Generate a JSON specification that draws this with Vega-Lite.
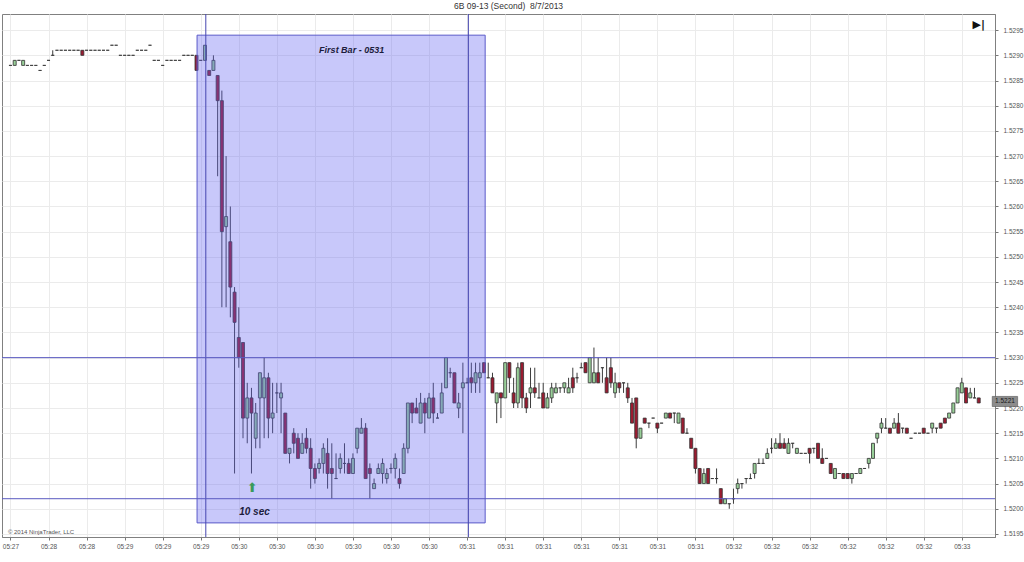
{
  "$schema": "https://vega.github.io/schema/vega-lite/v6.json",
  "width": 993,
  "height": 523,
  "autosize": {"type": "none"},
  "padding": {"left": 2, "top": 14, "right": 29, "bottom": 25},
  "background": "white",
  "title": {"text": "6B 09-13 (Second)\u00a0 8/7/2013", "fontSize": 8.5, "fontWeight": "normal", "font": "Liberation Sans", "color": "#333333", "offset": 3, "dx": 10},
  "config": {
    "view": {"stroke": "#808080", "strokeWidth": 1},
    "axis": {"labelFont": "Liberation Sans", "labelFontSize": 6.5, "labelColor": "#555555", "tickColor": "#777777", "tickSize": 3, "domainColor": "#808080", "gridColor": "#ebebeb", "gridWidth": 1, "title": null, "labelOverlap": false, "labelFlush": false, "labelBound": false}
  },
  "datasets": {
    "bars": [
      {"i":0,"o":1.5288,"h":1.5288,"l":1.5288,"c":1.5288},
      {"i":1,"o":1.5288,"h":1.5289,"l":1.5288,"c":1.5289},
      {"i":2,"o":1.5289,"h":1.5289,"l":1.5289,"c":1.5289},
      {"i":3,"o":1.5288,"h":1.5289,"l":1.5288,"c":1.5289},
      {"i":4,"o":1.5288,"h":1.5288,"l":1.5288,"c":1.5288},
      {"i":5,"o":1.5288,"h":1.5288,"l":1.5288,"c":1.5288},
      {"i":6,"o":1.5288,"h":1.5288,"l":1.5288,"c":1.5288},
      {"i":7,"o":1.5287,"h":1.5287,"l":1.5287,"c":1.5287},
      {"i":8,"o":1.5288,"h":1.5288,"l":1.5288,"c":1.5288},
      {"i":9,"o":1.5289,"h":1.5289,"l":1.5289,"c":1.5289},
      {"i":10,"o":1.5290,"h":1.5291,"l":1.5290,"c":1.5290},
      {"i":11,"o":1.5291,"h":1.5291,"l":1.5291,"c":1.5291},
      {"i":12,"o":1.5291,"h":1.5291,"l":1.5291,"c":1.5291},
      {"i":13,"o":1.5291,"h":1.5291,"l":1.5291,"c":1.5291},
      {"i":14,"o":1.5291,"h":1.5291,"l":1.5291,"c":1.5291},
      {"i":15,"o":1.5291,"h":1.5291,"l":1.5291,"c":1.5291},
      {"i":16,"o":1.5291,"h":1.5291,"l":1.5291,"c":1.5291},
      {"i":17,"o":1.5291,"h":1.5291,"l":1.5290,"c":1.5290},
      {"i":18,"o":1.5291,"h":1.5291,"l":1.5291,"c":1.5291},
      {"i":19,"o":1.5291,"h":1.5291,"l":1.5291,"c":1.5291},
      {"i":20,"o":1.5291,"h":1.5291,"l":1.5291,"c":1.5291},
      {"i":21,"o":1.5291,"h":1.5291,"l":1.5291,"c":1.5291},
      {"i":22,"o":1.5291,"h":1.5291,"l":1.5291,"c":1.5291},
      {"i":23,"o":1.5291,"h":1.5291,"l":1.5291,"c":1.5291},
      {"i":24,"o":1.5292,"h":1.5292,"l":1.5292,"c":1.5292},
      {"i":25,"o":1.5292,"h":1.5292,"l":1.5292,"c":1.5292},
      {"i":26,"o":1.5290,"h":1.5290,"l":1.5290,"c":1.5290},
      {"i":27,"o":1.5290,"h":1.5290,"l":1.5290,"c":1.5290},
      {"i":28,"o":1.5290,"h":1.5290,"l":1.5290,"c":1.5290},
      {"i":29,"o":1.5290,"h":1.5290,"l":1.5290,"c":1.5290},
      {"i":30,"o":1.5291,"h":1.5291,"l":1.5291,"c":1.5291},
      {"i":31,"o":1.5291,"h":1.5291,"l":1.5291,"c":1.5291},
      {"i":32,"o":1.5291,"h":1.5291,"l":1.5291,"c":1.5291},
      {"i":33,"o":1.5292,"h":1.5292,"l":1.5292,"c":1.5292},
      {"i":34,"o":1.5289,"h":1.5289,"l":1.5289,"c":1.5289},
      {"i":35,"o":1.5289,"h":1.5289,"l":1.5289,"c":1.5289},
      {"i":36,"o":1.5288,"h":1.5288,"l":1.5288,"c":1.5288},
      {"i":37,"o":1.5289,"h":1.5289,"l":1.5289,"c":1.5289},
      {"i":38,"o":1.5289,"h":1.5289,"l":1.5289,"c":1.5289},
      {"i":39,"o":1.5289,"h":1.5289,"l":1.5289,"c":1.5289},
      {"i":40,"o":1.5289,"h":1.5289,"l":1.5289,"c":1.5289},
      {"i":41,"o":1.5290,"h":1.5290,"l":1.5290,"c":1.5290},
      {"i":42,"o":1.5290,"h":1.5290,"l":1.5290,"c":1.5290},
      {"i":43,"o":1.5290,"h":1.5290,"l":1.5290,"c":1.5290},
      {"i":44,"o":1.5290,"h":1.5290,"l":1.5287,"c":1.5287},
      {"i":45,"o":1.5289,"h":1.5289,"l":1.5289,"c":1.5289},
      {"i":46,"o":1.5289,"h":1.5292,"l":1.5289,"c":1.5292},
      {"i":47,"o":1.5287,"h":1.5287,"l":1.5286,"c":1.5286},
      {"i":48,"o":1.5287,"h":1.5290,"l":1.5287,"c":1.5289},
      {"i":49,"o":1.5286,"h":1.5286,"l":1.5266,"c":1.5281},
      {"i":50,"o":1.5281,"h":1.5283,"l":1.5240,"c":1.5255},
      {"i":51,"o":1.5256,"h":1.5270,"l":1.5240,"c":1.5258},
      {"i":52,"o":1.5253,"h":1.5260,"l":1.5238,"c":1.5244},
      {"i":53,"o":1.5243,"h":1.5244,"l":1.5207,"c":1.5237},
      {"i":54,"o":1.5234,"h":1.5240,"l":1.5228,"c":1.5230},
      {"i":55,"o":1.5233,"h":1.5233,"l":1.5214,"c":1.5218},
      {"i":56,"o":1.5218,"h":1.5225,"l":1.5213,"c":1.5222},
      {"i":57,"o":1.5222,"h":1.5224,"l":1.5207,"c":1.5219},
      {"i":58,"o":1.5214,"h":1.5221,"l":1.5212,"c":1.5219},
      {"i":59,"o":1.5222,"h":1.5227,"l":1.5212,"c":1.5227},
      {"i":60,"o":1.5222,"h":1.5230,"l":1.5214,"c":1.5226},
      {"i":61,"o":1.5226,"h":1.5227,"l":1.5214,"c":1.5218},
      {"i":62,"o":1.5218,"h":1.5225,"l":1.5215,"c":1.5219},
      {"i":63,"o":1.5223,"h":1.5225,"l":1.5219,"c":1.5223},
      {"i":64,"o":1.5222,"h":1.5225,"l":1.5215,"c":1.5223},
      {"i":65,"o":1.5219,"h":1.5219,"l":1.5211,"c":1.5211},
      {"i":66,"o":1.5211,"h":1.5212,"l":1.5209,"c":1.5212},
      {"i":67,"o":1.5215,"h":1.5216,"l":1.5211,"c":1.5213},
      {"i":68,"o":1.5214,"h":1.5215,"l":1.5210,"c":1.5210},
      {"i":69,"o":1.5211,"h":1.5215,"l":1.5211,"c":1.5213},
      {"i":70,"o":1.5214,"h":1.5216,"l":1.5211,"c":1.5212},
      {"i":71,"o":1.5212,"h":1.5214,"l":1.5204,"c":1.5208},
      {"i":72,"o":1.5208,"h":1.5209,"l":1.5205,"c":1.5206},
      {"i":73,"o":1.5208,"h":1.5210,"l":1.5207,"c":1.5209},
      {"i":74,"o":1.5209,"h":1.5213,"l":1.5207,"c":1.5212},
      {"i":75,"o":1.5211,"h":1.5214,"l":1.5204,"c":1.5207},
      {"i":76,"o":1.5208,"h":1.5213,"l":1.5202,"c":1.5207},
      {"i":77,"o":1.5206,"h":1.5211,"l":1.5206,"c":1.5206},
      {"i":78,"o":1.5208,"h":1.5211,"l":1.5207,"c":1.5210},
      {"i":79,"o":1.5209,"h":1.5213,"l":1.5207,"c":1.5209},
      {"i":80,"o":1.5209,"h":1.5210,"l":1.5207,"c":1.5207},
      {"i":81,"o":1.5207,"h":1.5211,"l":1.5207,"c":1.5210},
      {"i":82,"o":1.5212,"h":1.5216,"l":1.5211,"c":1.5216},
      {"i":83,"o":1.5215,"h":1.5218,"l":1.5215,"c":1.5216},
      {"i":84,"o":1.5216,"h":1.5217,"l":1.5206,"c":1.5206},
      {"i":85,"o":1.5208,"h":1.5209,"l":1.5202,"c":1.5207},
      {"i":86,"o":1.5204,"h":1.5206,"l":1.5204,"c":1.5205},
      {"i":87,"o":1.5207,"h":1.5209,"l":1.5207,"c":1.5208},
      {"i":88,"o":1.5207,"h":1.5210,"l":1.5205,"c":1.5209},
      {"i":89,"o":1.5206,"h":1.5208,"l":1.5205,"c":1.5207},
      {"i":90,"o":1.5208,"h":1.5209,"l":1.5207,"c":1.5208},
      {"i":91,"o":1.5208,"h":1.5211,"l":1.5206,"c":1.5210},
      {"i":92,"o":1.5206,"h":1.5208,"l":1.5204,"c":1.5205},
      {"i":93,"o":1.5207,"h":1.5213,"l":1.5207,"c":1.5212},
      {"i":94,"o":1.5212,"h":1.5221,"l":1.5211,"c":1.5221},
      {"i":95,"o":1.5221,"h":1.5221,"l":1.5217,"c":1.5219},
      {"i":96,"o":1.5220,"h":1.5222,"l":1.5219,"c":1.5219},
      {"i":97,"o":1.5217,"h":1.5223,"l":1.5217,"c":1.5221},
      {"i":98,"o":1.5221,"h":1.5222,"l":1.5215,"c":1.5219},
      {"i":99,"o":1.5218,"h":1.5223,"l":1.5218,"c":1.5222},
      {"i":100,"o":1.5222,"h":1.5225,"l":1.5217,"c":1.5219},
      {"i":101,"o":1.5218,"h":1.5219,"l":1.5218,"c":1.5218},
      {"i":102,"o":1.5219,"h":1.5225,"l":1.5219,"c":1.5223},
      {"i":103,"o":1.5224,"h":1.5230,"l":1.5224,"c":1.5230},
      {"i":104,"o":1.5227,"h":1.5228,"l":1.5226,"c":1.5227},
      {"i":105,"o":1.5227,"h":1.5227,"l":1.5221,"c":1.5221},
      {"i":106,"o":1.5220,"h":1.5223,"l":1.5218,"c":1.5221},
      {"i":107,"o":1.5224,"h":1.5229,"l":1.5215,"c":1.5225},
      {"i":108,"o":1.5225,"h":1.5226,"l":1.5225,"c":1.5225},
      {"i":109,"o":1.5226,"h":1.5229,"l":1.5223,"c":1.5225},
      {"i":110,"o":1.5225,"h":1.5229,"l":1.5223,"c":1.5227},
      {"i":111,"o":1.5226,"h":1.5229,"l":1.5223,"c":1.5227},
      {"i":112,"o":1.5229,"h":1.5229,"l":1.5227,"c":1.5227},
      {"i":113,"o":1.5226,"h":1.5229,"l":1.5226,"c":1.5226},
      {"i":114,"o":1.5226,"h":1.5227,"l":1.5223,"c":1.5223},
      {"i":115,"o":1.5221,"h":1.5223,"l":1.5217,"c":1.5223},
      {"i":116,"o":1.5223,"h":1.5223,"l":1.5218,"c":1.5222},
      {"i":117,"o":1.5222,"h":1.5229,"l":1.5222,"c":1.5229},
      {"i":118,"o":1.5229,"h":1.5229,"l":1.5223,"c":1.5226},
      {"i":119,"o":1.5223,"h":1.5226,"l":1.5220,"c":1.5221},
      {"i":120,"o":1.5221,"h":1.5229,"l":1.5220,"c":1.5228},
      {"i":121,"o":1.5229,"h":1.5229,"l":1.5220,"c":1.5222},
      {"i":122,"o":1.5222,"h":1.5223,"l":1.5219,"c":1.5220},
      {"i":123,"o":1.5223,"h":1.5228,"l":1.5220,"c":1.5224},
      {"i":124,"o":1.5224,"h":1.5228,"l":1.5222,"c":1.5223},
      {"i":125,"o":1.5222,"h":1.5225,"l":1.5222,"c":1.5222},
      {"i":126,"o":1.5223,"h":1.5225,"l":1.5220,"c":1.5220},
      {"i":127,"o":1.5220,"h":1.5223,"l":1.5220,"c":1.5222},
      {"i":128,"o":1.5222,"h":1.5225,"l":1.5221,"c":1.5224},
      {"i":129,"o":1.5223,"h":1.5225,"l":1.5223,"c":1.5224},
      {"i":130,"o":1.5224,"h":1.5224,"l":1.5223,"c":1.5224},
      {"i":131,"o":1.5224,"h":1.5225,"l":1.5223,"c":1.5225},
      {"i":132,"o":1.5223,"h":1.5226,"l":1.5223,"c":1.5224},
      {"i":133,"o":1.5226,"h":1.5228,"l":1.5223,"c":1.5224},
      {"i":134,"o":1.5226,"h":1.5227,"l":1.5225,"c":1.5226},
      {"i":135,"o":1.5228,"h":1.5229,"l":1.5228,"c":1.5228},
      {"i":136,"o":1.5229,"h":1.5229,"l":1.5227,"c":1.5227},
      {"i":137,"o":1.5225,"h":1.5230,"l":1.5225,"c":1.5230},
      {"i":138,"o":1.5225,"h":1.5232,"l":1.5225,"c":1.5227},
      {"i":139,"o":1.5227,"h":1.5230,"l":1.5225,"c":1.5225},
      {"i":140,"o":1.5228,"h":1.5228,"l":1.5225,"c":1.5228},
      {"i":141,"o":1.5226,"h":1.5230,"l":1.5223,"c":1.5223},
      {"i":142,"o":1.5228,"h":1.5230,"l":1.5224,"c":1.5225},
      {"i":143,"o":1.5223,"h":1.5227,"l":1.5222,"c":1.5225},
      {"i":144,"o":1.5225,"h":1.5225,"l":1.5223,"c":1.5224},
      {"i":145,"o":1.5225,"h":1.5225,"l":1.5223,"c":1.5225},
      {"i":146,"o":1.5224,"h":1.5225,"l":1.5221,"c":1.5222},
      {"i":147,"o":1.5221,"h":1.5222,"l":1.5217,"c":1.5217},
      {"i":148,"o":1.5222,"h":1.5222,"l":1.5212,"c":1.5214},
      {"i":149,"o":1.5214,"h":1.5216,"l":1.5214,"c":1.5216},
      {"i":150,"o":1.5218,"h":1.5218,"l":1.5217,"c":1.5217},
      {"i":151,"o":1.5217,"h":1.5217,"l":1.5216,"c":1.5217},
      {"i":152,"o":1.5218,"h":1.5218,"l":1.5218,"c":1.5218},
      {"i":153,"o":1.5217,"h":1.5217,"l":1.5215,"c":1.5216},
      {"i":154,"o":1.5217,"h":1.5217,"l":1.5217,"c":1.5217},
      {"i":155,"o":1.5218,"h":1.5219,"l":1.5218,"c":1.5219},
      {"i":156,"o":1.5219,"h":1.5219,"l":1.5218,"c":1.5218},
      {"i":157,"o":1.5219,"h":1.5219,"l":1.5217,"c":1.5219},
      {"i":158,"o":1.5217,"h":1.5219,"l":1.5217,"c":1.5219},
      {"i":159,"o":1.5218,"h":1.5218,"l":1.5215,"c":1.5215},
      {"i":160,"o":1.5215,"h":1.5216,"l":1.5215,"c":1.5215},
      {"i":161,"o":1.5214,"h":1.5214,"l":1.5212,"c":1.5212},
      {"i":162,"o":1.5212,"h":1.5212,"l":1.5207,"c":1.5208},
      {"i":163,"o":1.5208,"h":1.5208,"l":1.5205,"c":1.5205},
      {"i":164,"o":1.5205,"h":1.5208,"l":1.5205,"c":1.5207},
      {"i":165,"o":1.5208,"h":1.5208,"l":1.5205,"c":1.5205},
      {"i":166,"o":1.5206,"h":1.5206,"l":1.5206,"c":1.5206},
      {"i":167,"o":1.5206,"h":1.5208,"l":1.5205,"c":1.5206},
      {"i":168,"o":1.5204,"h":1.5204,"l":1.5201,"c":1.5201},
      {"i":169,"o":1.5201,"h":1.5202,"l":1.5201,"c":1.5202},
      {"i":170,"o":1.5201,"h":1.5201,"l":1.5200,"c":1.5201},
      {"i":171,"o":1.5202,"h":1.5204,"l":1.5201,"c":1.5202},
      {"i":172,"o":1.5204,"h":1.5206,"l":1.5203,"c":1.5205},
      {"i":173,"o":1.5205,"h":1.5205,"l":1.5204,"c":1.5205},
      {"i":174,"o":1.5206,"h":1.5206,"l":1.5205,"c":1.5206},
      {"i":175,"o":1.5206,"h":1.5207,"l":1.5206,"c":1.5206},
      {"i":176,"o":1.5207,"h":1.5209,"l":1.5206,"c":1.5209},
      {"i":177,"o":1.5209,"h":1.5210,"l":1.5209,"c":1.5209},
      {"i":178,"o":1.5209,"h":1.5210,"l":1.5209,"c":1.5209},
      {"i":179,"o":1.5210,"h":1.5212,"l":1.5210,"c":1.5211},
      {"i":180,"o":1.5212,"h":1.5214,"l":1.5211,"c":1.5212},
      {"i":181,"o":1.5212,"h":1.5214,"l":1.5212,"c":1.5213},
      {"i":182,"o":1.5213,"h":1.5215,"l":1.5212,"c":1.5212},
      {"i":183,"o":1.5213,"h":1.5214,"l":1.5212,"c":1.5212},
      {"i":184,"o":1.5211,"h":1.5214,"l":1.5211,"c":1.5213},
      {"i":185,"o":1.5213,"h":1.5213,"l":1.5212,"c":1.5213},
      {"i":186,"o":1.5211,"h":1.5212,"l":1.5211,"c":1.5212},
      {"i":187,"o":1.5211,"h":1.5211,"l":1.5211,"c":1.5211},
      {"i":188,"o":1.5211,"h":1.5211,"l":1.5211,"c":1.5211},
      {"i":189,"o":1.5212,"h":1.5212,"l":1.5209,"c":1.5211},
      {"i":190,"o":1.5212,"h":1.5212,"l":1.5211,"c":1.5212},
      {"i":191,"o":1.5213,"h":1.5213,"l":1.5210,"c":1.5210},
      {"i":192,"o":1.5210,"h":1.5212,"l":1.5209,"c":1.5209},
      {"i":193,"o":1.5210,"h":1.5210,"l":1.5210,"c":1.5210},
      {"i":194,"o":1.5209,"h":1.5209,"l":1.5207,"c":1.5207},
      {"i":195,"o":1.5206,"h":1.5208,"l":1.5206,"c":1.5208},
      {"i":196,"o":1.5207,"h":1.5207,"l":1.5207,"c":1.5207},
      {"i":197,"o":1.5207,"h":1.5207,"l":1.5206,"c":1.5206},
      {"i":198,"o":1.5207,"h":1.5207,"l":1.5206,"c":1.5206},
      {"i":199,"o":1.5206,"h":1.5207,"l":1.5205,"c":1.5207},
      {"i":200,"o":1.5207,"h":1.5207,"l":1.5207,"c":1.5207},
      {"i":201,"o":1.5207,"h":1.5208,"l":1.5207,"c":1.5208},
      {"i":202,"o":1.5208,"h":1.5208,"l":1.5208,"c":1.5208},
      {"i":203,"o":1.5209,"h":1.5210,"l":1.5208,"c":1.5210},
      {"i":204,"o":1.5210,"h":1.5213,"l":1.5210,"c":1.5213},
      {"i":205,"o":1.5214,"h":1.5215,"l":1.5213,"c":1.5215},
      {"i":206,"o":1.5216,"h":1.5218,"l":1.5215,"c":1.5217},
      {"i":207,"o":1.5216,"h":1.5218,"l":1.5216,"c":1.5216},
      {"i":208,"o":1.5216,"h":1.5216,"l":1.5215,"c":1.5215},
      {"i":209,"o":1.5216,"h":1.5218,"l":1.5216,"c":1.5217},
      {"i":210,"o":1.5217,"h":1.5219,"l":1.5215,"c":1.5215},
      {"i":211,"o":1.5216,"h":1.5216,"l":1.5215,"c":1.5216},
      {"i":212,"o":1.5216,"h":1.5216,"l":1.5215,"c":1.5215},
      {"i":213,"o":1.5214,"h":1.5214,"l":1.5214,"c":1.5214},
      {"i":214,"o":1.5215,"h":1.5215,"l":1.5215,"c":1.5215},
      {"i":215,"o":1.5215,"h":1.5215,"l":1.5215,"c":1.5215},
      {"i":216,"o":1.5216,"h":1.5216,"l":1.5215,"c":1.5215},
      {"i":217,"o":1.5215,"h":1.5215,"l":1.5215,"c":1.5215},
      {"i":218,"o":1.5216,"h":1.5217,"l":1.5215,"c":1.5217},
      {"i":219,"o":1.5216,"h":1.5216,"l":1.5215,"c":1.5216},
      {"i":220,"o":1.5217,"h":1.5217,"l":1.5216,"c":1.5216},
      {"i":221,"o":1.5218,"h":1.5218,"l":1.5217,"c":1.5217},
      {"i":222,"o":1.5218,"h":1.5219,"l":1.5218,"c":1.5219},
      {"i":223,"o":1.5219,"h":1.5221,"l":1.5219,"c":1.5221},
      {"i":224,"o":1.5221,"h":1.5224,"l":1.5221,"c":1.5224},
      {"i":225,"o":1.5223,"h":1.5226,"l":1.5223,"c":1.5225},
      {"i":226,"o":1.5224,"h":1.5224,"l":1.5221,"c":1.5221},
      {"i":227,"o":1.5222,"h":1.5224,"l":1.5222,"c":1.5223},
      {"i":228,"o":1.5222,"h":1.5224,"l":1.5222,"c":1.5222},
      {"i":229,"o":1.5222,"h":1.5222,"l":1.5221,"c":1.5221}
    ],
    "zone": [{"start": 44.13, "end": 112.27, "low": 1.51972, "high": 1.52940}],
    "vlines": [{"i": 46.2}, {"i": 108.3}],
    "hlines": [{"p": 1.5230}, {"p": 1.5202}],
    "labels": [
      {"i": 73.0, "p": 1.52910, "t": "First Bar - 0531", "k": "note"},
      {"i": 54.1, "p": 1.51994, "t": "10 sec", "k": "sec"}
    ],
    "arrow": [{"i": 57.2, "p": 1.52041, "t": "⬆"}],
    "copyright": [{"i": -0.6, "p": 1.51953, "t": "© 2014 NinjaTrader, LLC"}],
    "icon": [{"i": 229.0, "p": 1.52960, "t": "▶|"}],
    "last": [{"x1": 232.2, "x2": 238.2, "y1": 1.52203, "y2": 1.52223, "i": 235.2, "p": 1.52213, "t": "1.5221"}]
  },
  "layer": [
    {
      "data": {"name": "bars"},
      "mark": {"type": "rule", "color": "#3c3c3c", "strokeWidth": 1},
      "encoding": {
        "x": {"field": "i", "type": "quantitative", "scale": {"domain": [-0.82, 231.67], "nice": false, "zero": false},
          "axis": {"values": [0,9,18,27,36,45,54,63,72,81,90,99,108,117,126,135,144,153,162,171,180,189,198,207,216,225],
            "tickCount": 100,
            "labelExpr": "['05:27','05:28','05:28','05:29','05:29','05:29','05:30','05:30','05:30','05:30','05:30','05:30','05:31','05:31','05:31','05:31','05:31','05:31','05:31','05:32','05:32','05:32','05:32','05:32','05:32','05:33'][round(datum.value/9)]",
            "grid": true, "labelPadding": 3, "labelOverlap": false, "labelFlush": false, "labelBound": false}},
        "y": {"field": "l", "type": "quantitative", "scale": {"domain": [1.51944, 1.52982], "nice": false, "zero": false},
          "axis": {"orient": "right", "values": [1.5195,1.52,1.5205,1.521,1.5215,1.522,1.5225,1.523,1.5235,1.524,1.5245,1.525,1.5255,1.526,1.5265,1.527,1.5275,1.528,1.5285,1.529,1.5295],
            "tickCount": 100,
            "format": ".4f", "grid": true, "labelPadding": 5, "labelOverlap": false, "labelFlush": false, "labelBound": false}},
        "y2": {"field": "h"}
      }
    },
    {
      "data": {"name": "bars"},
      "mark": {"type": "bar", "size": 3, "stroke": "#333333", "strokeWidth": 0.8},
      "encoding": {
        "x": {"field": "i", "type": "quantitative"},
        "y": {"field": "o", "type": "quantitative"},
        "y2": {"field": "c"},
        "fill": {"condition": {"test": "datum.c >= datum.o", "value": "#98cf98"}, "value": "#9b1b30"}
      }
    },
    {
      "data": {"name": "zone"},
      "mark": {"type": "rect", "fill": "#6262f1", "fillOpacity": 0.35, "stroke": "#5a5ac8", "strokeWidth": 1},
      "encoding": {
        "x": {"field": "start", "type": "quantitative"},
        "x2": {"field": "end"},
        "y": {"field": "low", "type": "quantitative"},
        "y2": {"field": "high"}
      }
    },
    {
      "data": {"name": "vlines"},
      "mark": {"type": "rule", "color": "#4646b0", "strokeWidth": 1},
      "encoding": {"x": {"field": "i", "type": "quantitative"}}
    },
    {
      "data": {"name": "hlines"},
      "mark": {"type": "rule", "color": "#5a5ac0", "strokeWidth": 1},
      "encoding": {"y": {"field": "p", "type": "quantitative"}}
    },
    {
      "data": {"name": "labels"},
      "mark": {"type": "text", "font": "Liberation Sans", "fontWeight": "bold", "fontStyle": "italic", "align": "left", "baseline": "middle", "color": "#1c1c3c"},
      "encoding": {
        "x": {"field": "i", "type": "quantitative"},
        "y": {"field": "p", "type": "quantitative"},
        "text": {"field": "t"},
        "size": {"condition": {"test": "datum.k == 'sec'", "value": 10}, "value": 9}
      }
    },
    {
      "data": {"name": "arrow"},
      "mark": {"type": "text", "font": "DejaVu Sans", "fontSize": 13, "align": "center", "baseline": "middle", "color": "#3a9a5a"},
      "encoding": {
        "x": {"field": "i", "type": "quantitative"},
        "y": {"field": "p", "type": "quantitative"},
        "text": {"field": "t"}
      }
    },
    {
      "data": {"name": "copyright"},
      "mark": {"type": "text", "font": "Liberation Sans", "fontSize": 6, "align": "left", "baseline": "middle", "color": "#555555"},
      "encoding": {
        "x": {"field": "i", "type": "quantitative"},
        "y": {"field": "p", "type": "quantitative"},
        "text": {"field": "t"}
      }
    },
    {
      "data": {"name": "icon"},
      "mark": {"type": "text", "font": "DejaVu Sans", "fontSize": 11, "fontWeight": "bold", "align": "center", "baseline": "middle", "color": "#111111"},
      "encoding": {
        "x": {"field": "i", "type": "quantitative"},
        "y": {"field": "p", "type": "quantitative"},
        "text": {"field": "t"}
      }
    },
    {
      "data": {"name": "last"},
      "mark": {"type": "rect", "fill": "#8c8c8c", "stroke": "#555555", "strokeWidth": 0.6, "clip": false},
      "encoding": {
        "x": {"field": "x1", "type": "quantitative"},
        "x2": {"field": "x2"},
        "y": {"field": "y1", "type": "quantitative"},
        "y2": {"field": "y2"}
      }
    },
    {
      "data": {"name": "last"},
      "mark": {"type": "text", "font": "Liberation Sans", "fontSize": 6.5, "align": "center", "baseline": "middle", "color": "#1a1a1a", "clip": false},
      "encoding": {
        "x": {"field": "i", "type": "quantitative"},
        "y": {"field": "p", "type": "quantitative"},
        "text": {"field": "t"}
      }
    }
  ]
}
